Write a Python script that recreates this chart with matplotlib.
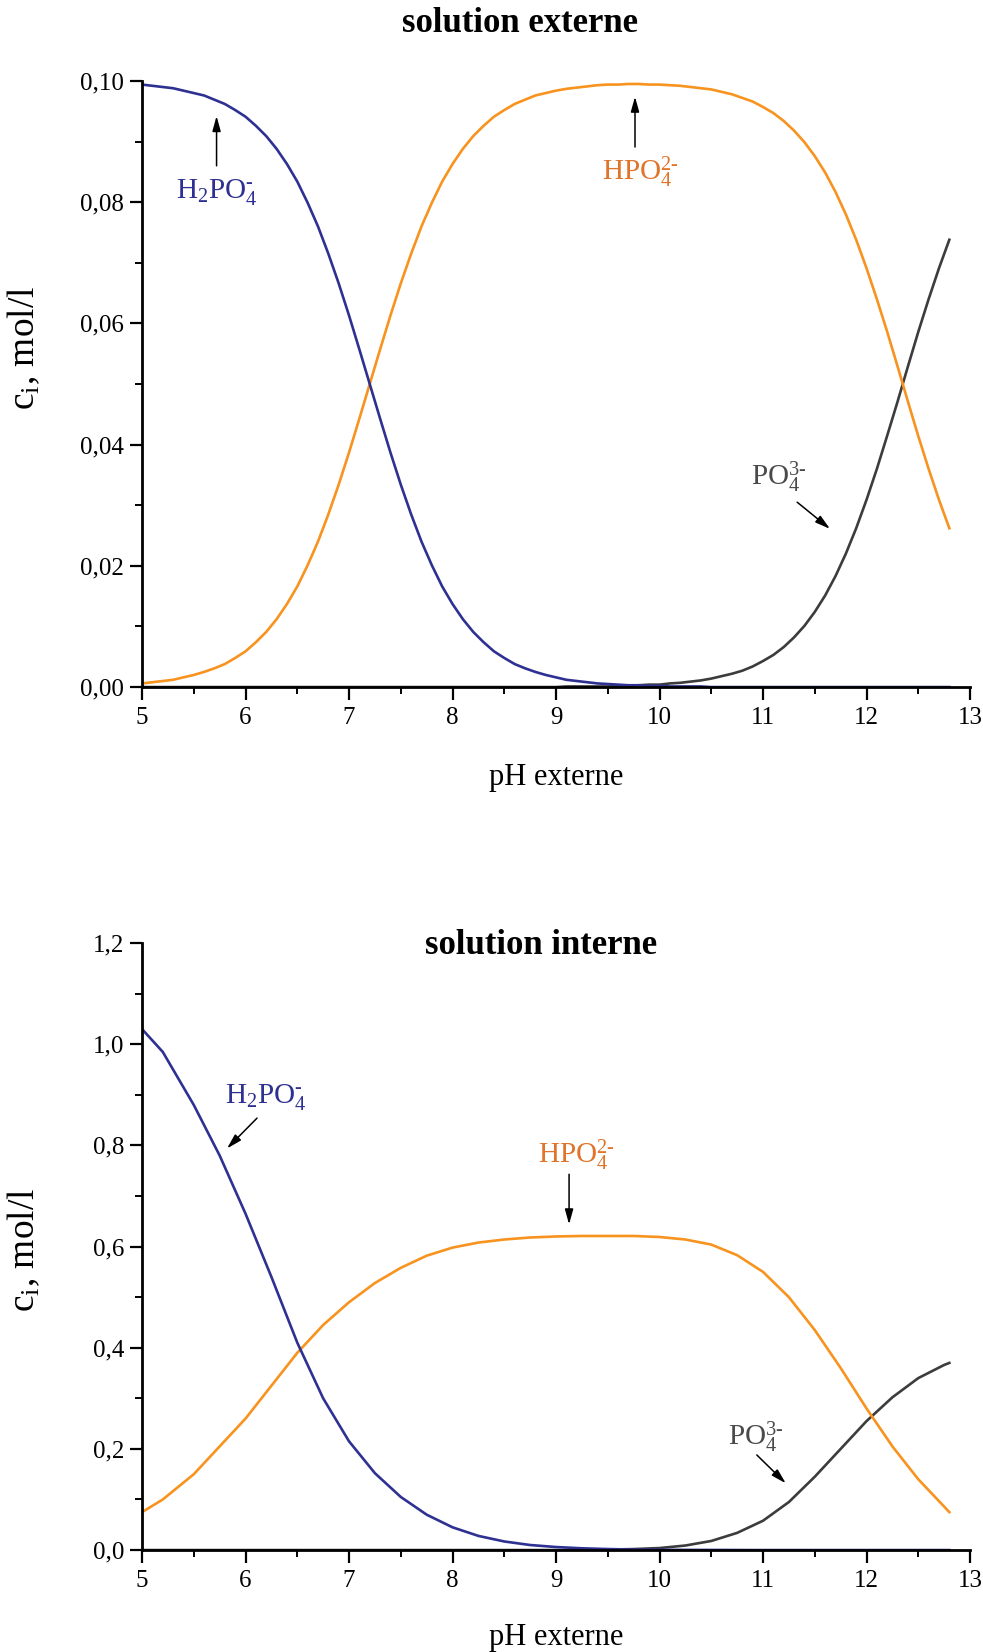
import numpy as np
import matplotlib
matplotlib.use("Agg")
import matplotlib.pyplot as plt
from matplotlib.ticker import MultipleLocator, FuncFormatter

plt.rcParams['font.family'] = ['Liberation Serif', 'DejaVu Serif']
plt.rcParams['mathtext.fontset'] = 'custom'
plt.rcParams['mathtext.rm'] = 'Liberation Serif'
plt.rcParams['mathtext.it'] = 'Liberation Serif:italic'

# solution externe (top chart)
ph_ext = [5.0, 5.1, 5.2, 5.3, 5.4, 5.5, 5.6, 5.7, 5.8, 5.9,
          6.0, 6.1, 6.2, 6.3, 6.4, 6.5, 6.6, 6.7, 6.8, 6.9,
          7.0, 7.1, 7.2, 7.3, 7.4, 7.5, 7.6, 7.7, 7.8, 7.9,
          8.0, 8.1, 8.2, 8.3, 8.4, 8.5, 8.6, 8.7, 8.8, 8.9,
          9.0, 9.1, 9.2, 9.3, 9.4, 9.5, 9.6, 9.7, 9.8, 9.9,
          10.0, 10.1, 10.2, 10.3, 10.4, 10.5, 10.6, 10.7, 10.8, 10.9,
          11.0, 11.1, 11.2, 11.3, 11.4, 11.5, 11.6, 11.7, 11.8, 11.9,
          12.0, 12.1, 12.2, 12.3, 12.4, 12.5, 12.6, 12.7, 12.8]
h2po4_ext = [0.0994, 0.0992, 0.0990, 0.0988, 0.0984, 0.0980, 0.0976, 0.0969, 0.0962, 0.0952,
             0.0941, 0.0926, 0.0909, 0.0888, 0.0863, 0.0834, 0.0799, 0.0760, 0.0715, 0.0666,
             0.0613, 0.0557, 0.0500, 0.0443, 0.0387, 0.0334, 0.0285, 0.0240, 0.0201, 0.0166,
             0.0137, 0.0112, 0.0091, 0.0074, 0.0059, 0.0048, 0.0038, 0.0031, 0.0025, 0.0020,
             0.0016, 0.0012, 0.0010, 0.0008, 0.0006, 0.0005, 0.0004, 0.0003, 0.0003, 0.0002,
             0.0002, 0.0001, 0.0001, 0.0001, 0.0001, 0.0, 0.0, 0.0, 0.0, 0.0,
             0.0, 0.0, 0.0, 0.0, 0.0, 0.0, 0.0, 0.0, 0.0, 0.0,
             0.0, 0.0, 0.0, 0.0, 0.0, 0.0, 0.0, 0.0, 0.0]
hpo4_ext = [0.0006, 0.0008, 0.0010, 0.0012, 0.0016, 0.0020, 0.0025, 0.0031, 0.0038, 0.0048,
            0.0059, 0.0074, 0.0091, 0.0112, 0.0137, 0.0166, 0.0201, 0.0240, 0.0285, 0.0334,
            0.0387, 0.0443, 0.0500, 0.0557, 0.0613, 0.0666, 0.0715, 0.0760, 0.0799, 0.0834,
            0.0863, 0.0888, 0.0909, 0.0926, 0.0941, 0.0952, 0.0962, 0.0969, 0.0976, 0.0980,
            0.0984, 0.0987, 0.0989, 0.0991, 0.0993, 0.0994, 0.0994, 0.0995, 0.0995, 0.0994,
            0.0994, 0.0993, 0.0992, 0.0990, 0.0988, 0.0986, 0.0982, 0.0978, 0.0972, 0.0966,
            0.0957, 0.0947, 0.0934, 0.0918, 0.0899, 0.0876, 0.0849, 0.0817, 0.0780, 0.0738,
            0.0691, 0.0640, 0.0586, 0.0529, 0.0471, 0.0414, 0.0360, 0.0309, 0.0262]
po4_ext = [0.0, 0.0, 0.0, 0.0, 0.0, 0.0, 0.0, 0.0, 0.0, 0.0,
           0.0, 0.0, 0.0, 0.0, 0.0, 0.0, 0.0, 0.0, 0.0, 0.0,
           0.0, 0.0, 0.0, 0.0, 0.0, 0.0, 0.0, 0.0, 0.0, 0.0,
           0.0, 0.0, 0.0, 0.0, 0.0, 0.0, 0.0, 0.0, 0.0, 0.0,
           0.0, 0.0001, 0.0001, 0.0001, 0.0001, 0.0001, 0.0002, 0.0002, 0.0003, 0.0004,
           0.0004, 0.0006, 0.0007, 0.0009, 0.0011, 0.0014, 0.0018, 0.0022, 0.0027, 0.0034,
           0.0043, 0.0053, 0.0066, 0.0082, 0.0101, 0.0124, 0.0151, 0.0183, 0.0220, 0.0262,
           0.0309, 0.0360, 0.0415, 0.0471, 0.0529, 0.0586, 0.0640, 0.0691, 0.0738]

# solution interne (bottom chart)
ph_int = [5.0, 5.2, 5.5, 5.75, 6.0, 6.25, 6.5, 6.75, 7.0, 7.25, 7.5, 7.75, 8.0, 8.25,
          8.5, 8.75, 9.0, 9.25, 9.5, 9.75, 10.0, 10.25, 10.5, 10.75, 11.0, 11.25,
          11.5, 11.75, 12.0, 12.25, 12.5, 12.75, 12.8]
h2po4_int = [1.03, 0.985, 0.88, 0.78, 0.665, 0.54, 0.41, 0.30, 0.215, 0.152, 0.105, 0.07, 0.045, 0.028,
             0.017, 0.010, 0.006, 0.0035, 0.002, 0.001, 0.0005, 0.0003, 0.0002, 0.0001, 0.0, 0.0,
             0.0, 0.0, 0.0, 0.0, 0.0, 0.0, 0.0]
hpo4_int = [0.075, 0.10, 0.15, 0.205, 0.26, 0.325, 0.39, 0.445, 0.49, 0.528, 0.558, 0.582, 0.598, 0.608,
            0.614, 0.618, 0.620, 0.621, 0.621, 0.621, 0.619, 0.614, 0.604, 0.583, 0.55, 0.50,
            0.435, 0.36, 0.28, 0.205, 0.14, 0.086, 0.075]
po4_int = [0.0, 0.0, 0.0, 0.0, 0.0, 0.0, 0.0, 0.0, 0.0, 0.0, 0.0, 0.0, 0.0, 0.0,
           0.0, 0.0, 0.0, 0.0, 0.001, 0.002, 0.004, 0.009, 0.018, 0.034, 0.058, 0.095,
           0.145, 0.20, 0.255, 0.302, 0.34, 0.366, 0.37]

BLUE = '#2e3192'
ORANGE = '#f7931e'
DARK = '#3c3c3c'
ORANGE_TXT = '#e0742a'
GRAY_TXT = '#4a4a4a'


def comma(v, nd):
    return ('%.*f' % (nd, v)).replace('.', ',')


def style_axes(ax, ymax, ystep, nd):
    ax.set_xlim(5, 13)
    ax.set_ylim(0, ymax)
    for s in ['top', 'right']:
        ax.spines[s].set_visible(False)
    for s in ['left', 'bottom']:
        ax.spines[s].set_linewidth(2.0)
    ax.xaxis.set_major_locator(MultipleLocator(1))
    ax.xaxis.set_minor_locator(MultipleLocator(0.5))
    ax.yaxis.set_major_locator(MultipleLocator(ystep))
    ax.yaxis.set_minor_locator(MultipleLocator(ystep / 2))
    ax.yaxis.set_major_formatter(FuncFormatter(lambda v, p: comma(v, nd)))
    ax.tick_params(which='major', direction='out', length=9, width=1.6, labelsize=18)
    ax.tick_params(which='minor', direction='out', length=5, width=1.4)
    ax.tick_params(axis='y', pad=4)
    ax.tick_params(axis='x', pad=5)
    ax.set_xlabel('pH externe', fontsize=22)
    ax.set_ylabel(r'c$_\mathregular{i}$, mol/l', fontsize=27)


def arrow(ax, xy, xytext):
    ax.annotate('', xy=xy, xytext=xytext,
                arrowprops=dict(arrowstyle='-|>,head_length=0.9,head_width=0.25',
                                color='black', lw=1.1, shrinkA=0, shrinkB=0))


HY = '\u2010'

fig = plt.figure(figsize=(9.83, 16.52), dpi=100)

# top chart
ax1 = fig.add_axes([0.1445, 0.5841, 0.8423, 0.3669])
ax1.plot(ph_ext, po4_ext, color=DARK, lw=1.9)
ax1.plot(ph_ext, hpo4_ext, color=ORANGE, lw=1.9)
ax1.plot(ph_ext, h2po4_ext, color=BLUE, lw=1.9)
style_axes(ax1, 0.10, 0.02, 2)
ax1.xaxis.set_label_coords(0.5, -0.125)
ax1.xaxis.label.set_va('top')
ax1.yaxis.set_label_coords(-0.121, 0.56)
fig.text(0.529, 1 - 24 / 1652, 'solution externe', ha='center', va='center',
         fontsize=25, fontweight='bold')

ax1.text(5.72, 0.0815, 'H$_2$PO$_4^{' + HY + '}$', color=BLUE, fontsize=21, ha='center', va='center')
arrow(ax1, (5.72, 0.0942), (5.72, 0.0860))
ax1.text(9.81, 0.0850, 'HPO$_4^{2' + HY + '}$', color=ORANGE_TXT, fontsize=21, ha='center', va='center')
arrow(ax1, (9.763, 0.0974), (9.763, 0.0891))
ax1.text(11.155, 0.0347, 'PO$_4^{3' + HY + '}$', color=GRAY_TXT, fontsize=21, ha='center', va='center')
arrow(ax1, (11.647, 0.0261), (11.33, 0.0305))

# bottom chart
ax2 = fig.add_axes([0.1445, 0.0617, 0.8423, 0.3674])
ax2.plot(ph_int, po4_int, color=DARK, lw=1.9)
ax2.plot(ph_int, hpo4_int, color=ORANGE, lw=1.9)
ax2.plot(ph_int, h2po4_int, color=BLUE, lw=1.9)
style_axes(ax2, 1.2, 0.2, 1)
ax2.xaxis.set_label_coords(0.5, -0.120)
ax2.xaxis.label.set_va('top')
ax2.yaxis.set_label_coords(-0.121, 0.494)
fig.text(541 / 983, 1 - 945 / 1652, 'solution interne', ha='center', va='center',
         fontsize=25, fontweight='bold')

ax2.text(6.198, 0.893, 'H$_2$PO$_4^{' + HY + '}$', color=BLUE, fontsize=21, ha='center', va='center')
arrow(ax2, (5.821, 0.794), (6.111, 0.854))
ax2.text(9.193, 0.781, 'HPO$_4^{2' + HY + '}$', color=ORANGE_TXT, fontsize=21, ha='center', va='center')
arrow(ax2, (9.126, 0.644), (9.126, 0.743))
ax2.text(10.93, 0.223, 'PO$_4^{3' + HY + '}$', color=GRAY_TXT, fontsize=21, ha='center', va='center')
arrow(ax2, (11.22, 0.132), (10.94, 0.188))

fig.savefig('out.png', dpi=100, facecolor='white')
